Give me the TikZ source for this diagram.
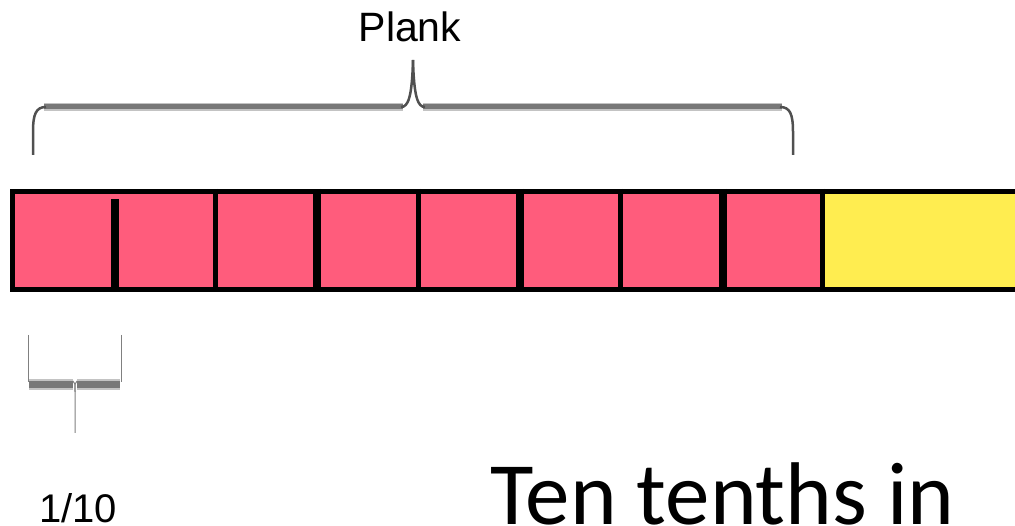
\documentclass[tikz,border=0pt]{standalone}
\usepackage{fontspec}
\setmainfont{Liberation Sans}
\newfontfamily\calfont{Carlito}
\definecolor{barpink}{RGB}{255,92,124}
\definecolor{baryellow}{RGB}{255,237,80}
\definecolor{corecol}{RGB}{120,120,120}
\definecolor{halocol}{RGB}{195,195,195}
\definecolor{thincol}{RGB}{80,80,80}
\tikzset{
  barline/.style={line width=5pt, black, line cap=butt},
  divthick/.style={line width=7.5pt, black, line cap=butt},
  divthin/.style={line width=5pt, black, line cap=butt},
  bracehalo/.style={line width=8pt, halocol, line cap=butt},
  bracebar/.style={line width=5pt, corecol, line cap=butt},
  bracecurve/.style={line width=2.5pt, thincol, line cap=butt},
  bracefine/.style={line width=1pt, gray, line cap=butt},
  lbl/.style={inner sep=0pt, anchor=base, text=black}
}
\begin{document}
\begin{tikzpicture}[x=1pt,y=-1pt]
\clip (0,0) rectangle (1015,526);
\fill[white] (0,0) rectangle (1015,526);
% bar
\fill[barpink] (12.5,191.5) rectangle (822.5,290);
\fill[baryellow] (822.5,191.5) rectangle (1040,290);
\draw[barline] (1040,191.5) -- (12.5,191.5) -- (12.5,290) -- (1040,290);
\draw[divthick] (115,199) -- (115,292.5);
\draw[divthin] (215,189) -- (215,292.5);
\draw[divthick] (317,189) -- (317,292.5);
\draw[divthin] (418,189) -- (418,292.5);
\draw[divthick] (520,189) -- (520,292.5);
\draw[divthin] (620,189) -- (620,292.5);
\draw[divthick] (723,189) -- (723,292.5);
\draw[divthin] (822.5,189) -- (822.5,292.5);
% big brace
\coordinate (bl) at (33,155);
\coordinate (br) at (793,155);
\coordinate (btip) at (413,60);
\draw[bracehalo] (44,107) -- (403,107);
\draw[bracehalo] (423,107) -- (782,107);
\draw[bracebar] (44,107) -- (403,107);
\draw[bracebar] (423,107) -- (782,107);
\draw[bracecurve] (bl) -- (33,132) .. controls (33,114) and (36,107) .. (46,107);
\draw[bracecurve] (br) -- (793,132) .. controls (793,114) and (790,107) .. (780,107);
\draw[bracecurve] (401,107) .. controls (408,107) and (412,98) .. (btip);
\draw[bracecurve] (425,107) .. controls (418,107) and (414,98) .. (btip);
% small brace
\coordinate (sl) at (28,335);
\coordinate (sr) at (121,335);
\coordinate (stip) at (75,433);
\draw[bracefine] (sl) -- (28,382);
\draw[bracefine] (sr) -- (121,382);
\draw[line width=11pt, halocol, line cap=butt] (29,385) -- (73,385);
\draw[line width=11pt, halocol, line cap=butt] (77,385) -- (120,385);
\draw[line width=7pt, corecol, line cap=butt] (29,385) -- (73,385);
\draw[line width=7pt, corecol, line cap=butt] (77,385) -- (120,385);
\draw[bracefine] (73,381) .. controls (75,383) .. (75,392) -- (stip);
\draw[bracefine] (77,381) .. controls (75,383) .. (75,392);
% labels
\node[lbl, font=\fontsize{41}{41}\selectfont] (plank) at (410,42) {Plank};
\node[lbl, font=\fontsize{40}{40}\selectfont] (tenth) at (78,522) {1/10};
\node[inner sep=0pt, anchor=base west, font=\calfont\fontsize{89}{89}\selectfont] (title) at (490,524) {Ten tenths in};
\end{tikzpicture}
\end{document}
